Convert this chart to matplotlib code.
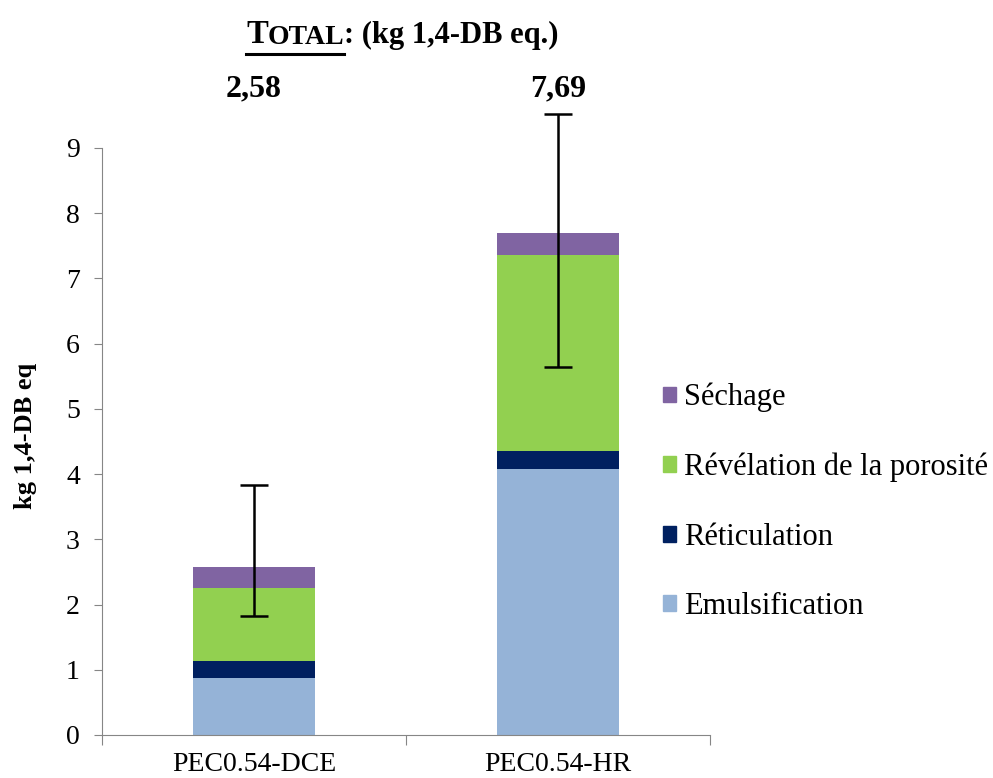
import numpy as np
import matplotlib
matplotlib.use('Agg')
from matplotlib import pyplot as plt
from matplotlib.patches import Patch

categories = ['PEC0.54-DCE', 'PEC0.54-HR']
stages = ['Emulsification', 'Réticulation', 'Révélation de la porosité', 'Séchage']
emulsification = [0.88, 4.08]
reticulation = [0.26, 0.27]
revelation = [1.12, 3.01]
sechage = [0.32, 0.33]
totals = [2.58, 7.69]
total_labels = ['2,58', '7,69']
err_low = [1.83, 5.64]
err_high = [3.83, 9.52]
yticks = [0, 1, 2, 3, 4, 5, 6, 7, 8, 9]

colors = ['#95B3D7', '#002060', '#92D050', '#8064A2']
plt.rcParams['font.family'] = 'Liberation Serif'

fig = plt.figure(figsize=(9.93, 7.78), dpi=100)
ax = fig.add_axes([0.1027, 0.0553, 0.6123, 0.7545])

x = np.arange(len(categories))
bottom = np.zeros(len(categories))
for vals, col, name in zip([emulsification, reticulation, revelation, sechage], colors, stages):
    ax.bar(x, vals, 0.4, bottom=bottom, color=col, label=name, edgecolor='none')
    bottom += np.array(vals)

tot = np.array(totals)
yerr = [tot - np.array(err_low), np.array(err_high) - tot]
ax.errorbar(x, tot, yerr=yerr, fmt='none', ecolor='black', elinewidth=1.8,
            capsize=10, capthick=1.8, clip_on=False, zorder=5)

ax.set_xlim(-0.5, 1.5)
ax.set_ylim(0, 9)
ax.set_yticks(yticks)
ax.set_xticks([-0.5, 0.5, 1.5])
ax.set_xticklabels([])
ax.set_xticks(x, minor=True)
ax.set_xticklabels(categories, minor=True)
ax.tick_params(axis='x', which='minor', length=0, labelsize=20, pad=12)
ax.tick_params(axis='x', which='major', length=7, color='#868686')
ax.tick_params(axis='y', length=6, color='#868686', labelsize=20, pad=10)
for s in ['top', 'right']:
    ax.spines[s].set_visible(False)
for s in ['left', 'bottom']:
    ax.spines[s].set_color('#868686')

ax.set_ylabel('kg 1,4-DB eq', fontsize=19, fontweight='bold')
ax.yaxis.set_label_coords(-0.107, 0.51)

for xi, lab in zip(x, total_labels):
    fig.text((ax.transData.transform((xi, 0))[0]) / fig.bbox.width, 0.886, lab,
             ha='center', va='center', fontsize=23, fontweight='bold')

# title with small caps TOTAL underlined
t1 = fig.text(246 / 993, 0.9447, 'T', fontsize=23.5, fontweight='bold', va='baseline')
t2 = ax.annotate('OTAL', xy=(1, 0), xycoords=t1, fontsize=20, fontweight='bold', va='bottom')
t3 = ax.annotate(': (kg 1,4-DB eq.)', xy=(1, 0), xycoords=t2, fontsize=22, fontweight='bold', va='bottom')
fig.canvas.draw()
r = fig.canvas.get_renderer()
b1 = t1.get_window_extent(r)
b2 = t2.get_window_extent(r)
uy = 1 - 53.5 / 778
fig.add_artist(plt.Line2D([b1.x0 / fig.bbox.width, b2.x1 / fig.bbox.width], [uy, uy],
                          color='black', linewidth=2.2))

handles = [Patch(color=c) for c in colors][::-1]
ax.legend(handles, stages[::-1], loc='center left', bbox_to_anchor=(0.9227, 0.397),
          frameon=False, fontsize=22, handlelength=0.42, handleheight=0.42,
          handletextpad=0.26, labelspacing=1.32, borderaxespad=0, borderpad=0)

fig.savefig('out.png', dpi=100)
